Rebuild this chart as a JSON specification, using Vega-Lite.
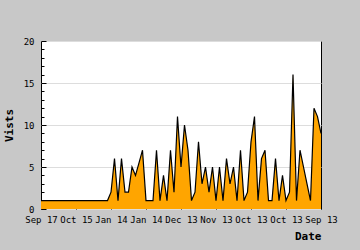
{
  "$schema": "https://vega.github.io/schema/vega-lite/v6.json",
  "autosize": {"type": "none"},
  "padding": {"left": 41, "top": 41, "right": 39, "bottom": 41},
  "width": 280,
  "height": 168,
  "background": "#c8c8c8",
  "config": {
    "view": {"fill": "white", "stroke": "black", "strokeWidth": 1},
    "axis": {"labelFont": "DejaVu Sans Mono", "labelFontSize": 9, "labelColor": "black", "titleFont": "DejaVu Sans Mono", "titleFontSize": 11, "titleFontWeight": "bold", "titleColor": "black", "tickColor": "black", "domainColor": "black"}
  },
  "data": {"values": [
    {"i":0,"visits":1},{"i":1,"visits":1},{"i":2,"visits":1},{"i":3,"visits":1},{"i":4,"visits":1},
    {"i":5,"visits":1},{"i":6,"visits":1},{"i":7,"visits":1},{"i":8,"visits":1},{"i":9,"visits":1},
    {"i":10,"visits":1},{"i":11,"visits":1},{"i":12,"visits":1},{"i":13,"visits":1},{"i":14,"visits":1},
    {"i":15,"visits":1},{"i":16,"visits":1},{"i":17,"visits":1},{"i":18,"visits":1},{"i":19,"visits":1},
    {"i":20,"visits":2},{"i":21,"visits":6},{"i":22,"visits":1},{"i":23,"visits":6},{"i":24,"visits":2},
    {"i":25,"visits":2},{"i":26,"visits":5},{"i":27,"visits":4},{"i":28,"visits":5.5},{"i":29,"visits":7},
    {"i":30,"visits":1},{"i":31,"visits":1},{"i":32,"visits":1},{"i":33,"visits":7},{"i":34,"visits":1},
    {"i":35,"visits":4},{"i":36,"visits":1},{"i":37,"visits":7},{"i":38,"visits":2},{"i":39,"visits":11},
    {"i":40,"visits":5},{"i":41,"visits":10},{"i":42,"visits":7},{"i":43,"visits":1},{"i":44,"visits":2},
    {"i":45,"visits":8},{"i":46,"visits":3},{"i":47,"visits":5},{"i":48,"visits":2},{"i":49,"visits":5},
    {"i":50,"visits":1},{"i":51,"visits":5},{"i":52,"visits":1},{"i":53,"visits":6},{"i":54,"visits":3},
    {"i":55,"visits":5},{"i":56,"visits":1},{"i":57,"visits":7},{"i":58,"visits":1},{"i":59,"visits":2},
    {"i":60,"visits":8},{"i":61,"visits":11},{"i":62,"visits":1},{"i":63,"visits":6},{"i":64,"visits":7},
    {"i":65,"visits":1},{"i":66,"visits":1},{"i":67,"visits":6},{"i":68,"visits":1},{"i":69,"visits":4},
    {"i":70,"visits":1},{"i":71,"visits":2},{"i":72,"visits":16},{"i":73,"visits":1},{"i":74,"visits":7},
    {"i":75,"visits":5},{"i":76,"visits":3},{"i":77,"visits":1},{"i":78,"visits":12},{"i":79,"visits":11},
    {"i":80,"visits":9}
  ]},
  "encoding": {
    "x": {"field": "i", "type": "quantitative", "scale": {"domain": [0, 80], "nice": false, "zero": false},
      "axis": {"title": "Date", "values": [0,10,20,30,40,50,60,70,80], "tickSize": -4, "labelPadding": 10, "labelFlush": false, "labelOverlap": false, "labelBound": false, "grid": false, "domain": false,
        "labelExpr": "['Sep 17','Oct 15','Jan 14','Jan 14','Dec 13','Nov 13','Oct 13','Oct 13','Sep 13'][round(datum.value/10)]",
        "titleAnchor": "end", "titleBaseline": "alphabetic", "titleY": 30, "titlePadding": 0}}
  },
  "layer": [
    {
      "mark": {"type": "area", "color": "#ffa500", "opacity": 1, "fillOpacity": 1, "line": {"color": "black", "strokeWidth": 1.2}},
      "encoding": {
        "y": {"field": "visits", "type": "quantitative", "scale": {"domain": [0, 20], "nice": false},
          "axis": {"title": "Vists", "orient": "left", "values": [0,5,10,15,20], "tickSize": -5, "labelPadding": 12, "domain": false, "grid": true, "gridColor": "#dddddd", "gridOpacity": 1, "titleX": -32, "titleBaseline": "middle"}}
      }
    },
    {
      "mark": {"type": "line", "opacity": 0},
      "encoding": {
        "y": {"field": "visits", "type": "quantitative",
          "axis": {"title": null, "orient": "left", "values": [1,2,3,4,6,7,8,9,11,12,13,14,16,17,18,19], "tickSize": -3, "labels": false, "domain": false, "grid": false}}
      }
    }
  ],
  "resolve": {"axis": {"y": "independent"}}
}
